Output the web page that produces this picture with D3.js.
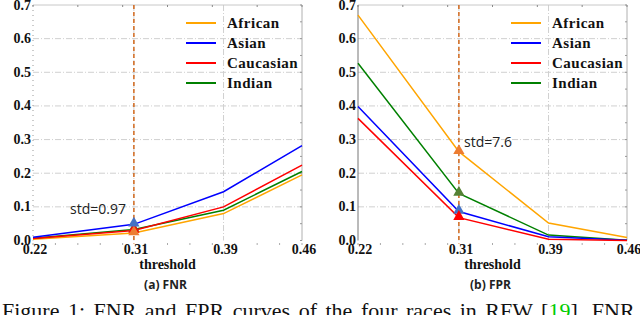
<!DOCTYPE html>
<html><head><meta charset="utf-8">
<script src="https://cdn.jsdelivr.net/npm/d3@7"></script>
<style>body{margin:0;background:#fff}svg{display:block}</style>
</head><body><svg id="c" width="640" height="315"></svg>
<script>
const thresholds = [0.22, 0.31, 0.39, 0.46];
const races = ["African", "Asian", "Caucasian", "Indian"];
const fnrAfrican   = [0.004, 0.022, 0.080, 0.195];
const fnrAsian     = [0.010, 0.048, 0.145, 0.282];
const fnrCaucasian = [0.006, 0.030, 0.100, 0.224];
const fnrIndian    = [0.007, 0.033, 0.090, 0.205];
const fprAfrican   = [0.670, 0.264, 0.052, 0.009];
const fprAsian     = [0.398, 0.086, 0.011, 0.001];
const fprCaucasian = [0.363, 0.068, 0.004, 0.000];
const fprIndian    = [0.527, 0.140, 0.016, 0.001];
const yTicks = [0.0, 0.1, 0.2, 0.3, 0.4, 0.5, 0.6, 0.7];
const stdLabels = ["std=0.97", "std=7.6"];
const panelTitles = ["(a) FNR", "(b) FPR"];
const xTitle = "threshold";

const lineColors = {African:"#FFA500", Asian:"#0000FF", Caucasian:"#FF0000", Indian:"#008000"};
const markerColors = {African:"#ED7D31", Asian:"#4472C4", Caucasian:"#FF0000", Indian:"#548235"};

const panels = [
  {x0:33, x1:302, series:{African:fnrAfrican, Asian:fnrAsian, Caucasian:fnrCaucasian, Indian:fnrIndian},
   markerOrder:["Indian","Caucasian","African","Asian"], std:stdLabels[0], stdPos:[70,214], title:panelTitles[0],
   legX:186, solidLeft:false},
  {x0:358, x1:627, series:{African:fprAfrican, Asian:fprAsian, Caucasian:fprCaucasian, Indian:fprIndian},
   markerOrder:["African","Indian","Asian","Caucasian"], std:stdLabels[1], stdPos:[464,147], title:panelTitles[1],
   legX:511, solidLeft:true}
];

const svg = d3.select("#c");
const yTop = 5, yBot = 240.5;
const serif = "Liberation Serif";
const sans = "Open Sans";

panels.forEach(p => {
  const x = d3.scaleLinear().domain([0.22, 0.46]).range([p.x0, p.x1]);
  const y = d3.scaleLinear().domain([0, 0.7]).range([yBot, yTop]);
  const g = svg.append("g");

  g.selectAll(".hg").data(yTicks.filter(v => v > 0 && v < 0.7)).join("line")
    .attr("x1", p.x0).attr("x2", p.x1).attr("y1", d => y(d)).attr("y2", d => y(d))
    .attr("stroke", "#d0d0d0").attr("stroke-width", 1).attr("stroke-dasharray", "6,2,1,2");
  g.selectAll(".vg").data([0.31, 0.39]).join("line")
    .attr("x1", d => x(d)).attr("x2", d => x(d)).attr("y1", yTop).attr("y2", yBot)
    .attr("stroke", "#d0d0d0").attr("stroke-width", 1).attr("stroke-dasharray", "6,2,1,2");
  g.append("line").attr("x1", p.x0).attr("x2", p.x1).attr("y1", yTop).attr("y2", yTop).attr("stroke", "#c8c8c8");
  g.append("line").attr("x1", p.x1).attr("x2", p.x1).attr("y1", yTop).attr("y2", yBot).attr("stroke", "#b0b0b0");
  g.append("line").attr("x1", p.x0).attr("x2", p.x0).attr("y1", yTop).attr("y2", yBot)
    .attr("stroke", p.solidLeft ? "#777" : "#999").attr("stroke-width", 1)
    .attr("stroke-dasharray", p.solidLeft ? null : "1,4");
  const minor = d3.range(0, 0.701, 0.05);
  g.selectAll(".mt").data(minor).join("line")
    .attr("x1", p.x1 - 2).attr("x2", p.x1).attr("y1", d => y(d)).attr("y2", d => y(d)).attr("stroke", "#999");
  g.selectAll(".mb").data(d3.range(0.22, 0.461, 0.02)).join("line")
    .attr("x1", d => x(d)).attr("x2", d => x(d)).attr("y1", yBot + 3).attr("y2", yBot + 4).attr("stroke", "#555");
  g.selectAll(".mtop").data(d3.range(0.22, 0.461, 0.04)).join("line")
    .attr("x1", d => x(d)).attr("x2", d => x(d)).attr("y1", yTop).attr("y2", yTop + 2).attr("stroke", "#888");

  g.selectAll(".yl").data(yTicks).join("text")
    .attr("x", p.x0 - 2).attr("y", d => y(d) + 4.5).attr("text-anchor", "end")
    .style("font-family", serif).style("font-weight", "bold").style("font-size", "14px").attr("fill", "#111")
    .text(d => d.toFixed(1));
  g.selectAll(".xl").data(thresholds).join("text")
    .attr("x", d => x(d) + 2).attr("y", 254).attr("text-anchor", "middle")
    .style("font-family", serif).style("font-weight", "bold").style("font-size", "14px").attr("fill", "#111")
    .text(d => d.toFixed(2));
  g.append("text").attr("x", (p.x0 + p.x1) / 2).attr("y", 269).attr("text-anchor", "middle")
    .style("font-family", serif).style("font-weight", "bold").style("font-size", "14px").attr("fill", "#111").text(xTitle);
  g.append("text").attr("x", (p.x0 + p.x1) / 2 - 2).attr("y", 289).attr("text-anchor", "middle")
    .style("font-family", sans).style("font-weight", "bold").style("font-size", "12px").attr("fill", "#222").text(p.title);

  const line = d3.line().x((d, i) => x(thresholds[i])).y(d => y(d));
  const drawOrder = p.solidLeft ? ["Indian", "Asian", "Caucasian", "African"] : ["African", "Indian", "Caucasian", "Asian"];
  drawOrder.forEach(r => {
    g.append("path").attr("d", line(p.series[r])).attr("fill", "none")
      .attr("stroke", lineColors[r]).attr("stroke-width", 1.5);
  });

  g.append("line").attr("x1", x(0.31)).attr("x2", x(0.31)).attr("y1", yTop).attr("y2", yBot + 3)
    .attr("stroke", "#D2691E").attr("stroke-width", 1.5).attr("stroke-dasharray", "4,3");

  const tri = d3.symbol().type(d3.symbolTriangle).size(55);
  p.markerOrder.forEach(r => {
    g.append("path").attr("d", tri())
      .attr("transform", `translate(${x(0.31)},${y(p.series[r][1]) - 1})`)
      .attr("fill", markerColors[r]);
  });

  g.append("text").attr("x", p.stdPos[0]).attr("y", p.stdPos[1])
    .style("font-family", sans).style("font-size", "14px").attr("fill", "#222").text(p.std);

  races.forEach((r, i) => {
    const ly = 23 + i * 20;
    g.append("line").attr("x1", p.legX).attr("x2", p.legX + 30).attr("y1", ly).attr("y2", ly)
      .attr("stroke", lineColors[r]).attr("stroke-width", 2);
    g.append("text").attr("x", p.legX + 41).attr("y", ly + 5)
      .style("font-family", serif).style("font-weight", "bold").style("font-size", "15px").style("letter-spacing", "0.5px")
      .attr("fill", "#111").text(r);
  });
});

const cap = svg.append("text").attr("x", 2).attr("y", 318)
  .style("font-family", serif).style("font-size", "22px").style("word-spacing", "3px").attr("fill", "#111");
cap.append("tspan").text("Figure 1: FNR and FPR curves of the four races in RFW [");
cap.append("tspan").attr("fill", "#00CC00").text("19");
cap.append("tspan").text("]. FNR");
</script>
</body></html>
